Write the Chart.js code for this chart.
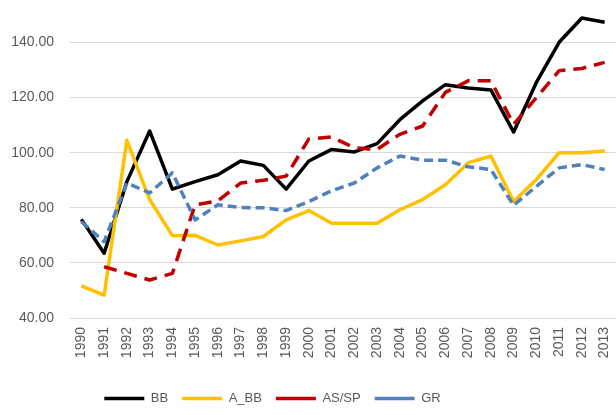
<!DOCTYPE html>
<html>
<head>
<meta charset="utf-8">
<script src="https://cdn.jsdelivr.net/npm/chart.js@4/dist/chart.umd.min.js"></script>
<style>
  html, body { margin: 0; padding: 0; background: #fff; }
  #chart { display: block; }
</style>
</head>
<body>
<canvas id="chart" width="616" height="415"></canvas>
<script>
const years = ['1990', '1991', '1992', '1993', '1994', '1995', '1996', '1997', '1998', '1999', '2000', '2001',
    '2002', '2003', '2004', '2005', '2006', '2007', '2008', '2009', '2010', '2011', '2012', '2013'];

const bb = [75.8, 63.5, 89.5, 107.9, 86.8, 89.5, 92.0, 97.0, 95.4, 86.8, 97.0, 101.2,
    100.3, 103.3, 112.0, 118.8, 124.7, 123.5, 122.8, 107.5, 125.5, 140.1, 148.9, 147.4];
const aBB = [51.7, 48.3, 104.5, 83.0, 69.9, 70.0, 66.5, 68.0, 69.6, 75.6, 79.0, 74.4,
    74.4, 74.4, 79.3, 83.0, 88.4, 96.3, 98.8, 82.3, 90.3, 100.0, 100.0, 100.6];
const asSp = [null, 58.6, 56.2, 53.8, 56.2, 81.1, 82.5, 89.0, 90.0, 91.5, 105.0, 105.7,
    101.8, 101.2, 106.7, 109.7, 121.9, 126.1, 126.1, 110.3, 120.0, 129.8, 130.6, 132.8];
const gr = [75.0, 67.7, 89.0, 85.4, 92.7, 75.6, 81.1, 80.1, 80.0, 79.0, 82.3, 86.2,
    89.0, 94.5, 98.8, 97.3, 97.3, 94.9, 93.9, 80.9, 87.8, 94.5, 95.7, 93.9];

const textColor = '#595959';
const fontFamily = '"Liberation Sans", Arial, sans-serif';
const legendFont = '"Liberation Sans Narrow", "Liberation Sans", Arial, sans-serif';

function line(label, data, color, dash, order) {
    return {
        label: label,
        data: data,
        borderColor: color,
        backgroundColor: color,
        borderWidth: 3.5,
        borderDash: dash,
        pointRadius: 0,
        pointStyle: 'line',
        tension: 0,
        borderJoinStyle: 'round',
        spanGaps: false,
        order: order
    };
}

// move the legend left like in the original
const legendShift = {
    id: 'legendShift',
    afterLayout(chart) {
        chart.legend.left = 0;
        chart.legend.right = 545;
    }
};

const ctx = document.getElementById('chart').getContext('2d');
new Chart(ctx, {
    type: 'line',
    data: {
        labels: years,
        datasets: [
            line('BB', bb, '#000000', [], 4),
            line('A_BB', aBB, '#FFC000', [], 3),
            line('AS/SP', asSp, '#C00000', [13, 8], 2),
            line('GR', gr, '#4F81BD', [9, 5], 1)
        ]
    },
    options: {
        responsive: false,
        animation: false,
        layout: { padding: { top: 15, right: 0, left: 0, bottom: 0 } },
        plugins: {
            tooltip: { enabled: false },
            legend: {
                position: 'bottom',
                labels: {
                    usePointStyle: true,
                    pointStyleWidth: 40,
                    padding: 14,
                    color: textColor,
                    font: { family: legendFont, size: 13 },
                    sort: (a, b) => a.datasetIndex - b.datasetIndex
                }
            }
        },
        scales: {
            x: {
                offset: true,
                grid: { display: false, drawTicks: false },
                border: { display: false },
                ticks: {
                    minRotation: 90,
                    maxRotation: 90,
                    autoSkip: false,
                    padding: 9,
                    color: textColor,
                    font: { family: fontFamily, size: 14 }
                },
                afterFit(scale) {
                    scale.height = 60;
                    scale.paddingLeft = 0;
                    scale.paddingRight = 0;
                }
            },
            y: {
                min: 40,
                max: 150,
                grid: { color: '#D9D9D9', lineWidth: 1, drawTicks: false },
                border: { display: false },
                ticks: {
                    stepSize: 20,
                    includeBounds: false,
                    padding: 16,
                    color: textColor,
                    font: { family: fontFamily, size: 14 },
                    callback: v => v.toFixed(2)
                },
                afterFit(scale) {
                    scale.width = 70;
                    scale.paddingTop = 0;
                    scale.paddingBottom = 0;
                }
            }
        }
    },
    plugins: [legendShift]
});
</script>
</body>
</html>
